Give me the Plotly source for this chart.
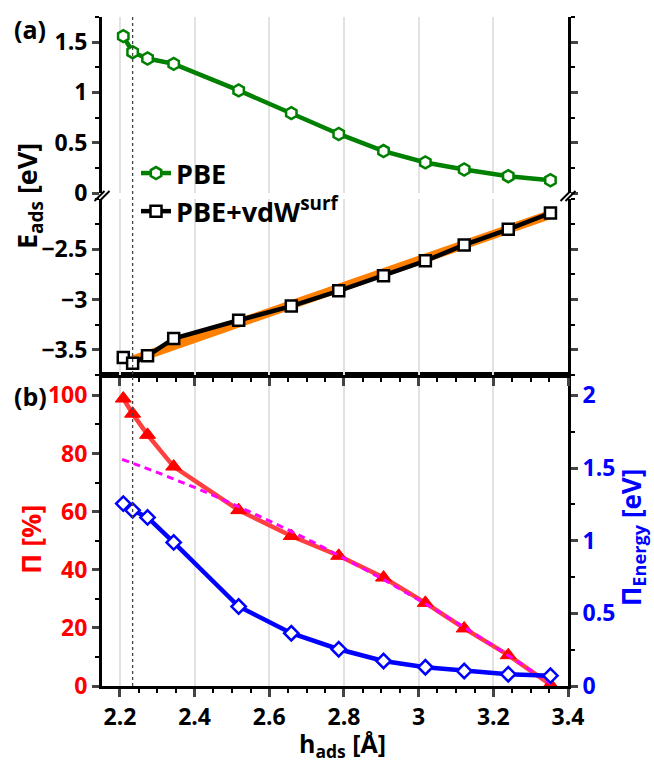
import plotly.graph_objects as go

# ---------------- data ----------------
h_ads = [2.209, 2.234, 2.274, 2.344, 2.518, 2.659, 2.786, 2.906, 3.018, 3.122, 3.240, 3.353]
E_pbe = [1.56, 1.40, 1.337, 1.284, 1.02, 0.794, 0.587, 0.417, 0.304, 0.234, 0.167, 0.127]
E_vdw = [-3.575, -3.634, -3.559, -3.388, -3.206, -3.065, -2.913, -2.763, -2.615, -2.457, -2.302, -2.139]
vdw_fit_x = [2.234, 3.353]
vdw_fit_y = [-3.60, -2.155]
Pi_percent = [98.9, 93.7, 86.4, 75.5, 60.5, 51.6, 44.8, 37.3, 28.6, 19.8, 10.6, 0.5]
Pi_energy = [1.255, 1.209, 1.16, 0.988, 0.547, 0.363, 0.253, 0.172, 0.129, 0.103, 0.081, 0.071]
fit_pi_x = [2.206, 2.25, 2.30, 2.35, 2.40, 2.45, 2.50, 2.55, 2.60, 2.66, 2.72, 2.786,
            2.85, 2.906, 2.96, 3.018, 3.07, 3.122, 3.18, 3.24, 3.30, 3.353]
fit_pi_y = [78.0, 75.9, 73.5, 70.9, 68.3, 65.6, 62.7, 59.8, 56.8, 53.1, 49.3, 44.9,
            40.5, 36.6, 32.6, 28.3, 24.3, 20.2, 15.5, 10.5, 5.4, 0.8]
h_eq = 2.234

# ---------------- layout constants ----------------
W, H = 654, 763
L, R, T, B = 102, 568, 17, 686
PW, PH = R - L, B - T

def px(x):
    return (x - L) / PW

def py(y):
    return (B - y) / PH

FONT = "Open Sans"
GREEN = "#008000"
RED = "#ff0000"
BLUE = "#0000ff"
GRID = "#e2e2e2"
TICK = 23

fig = go.Figure()

# top panel: upper segment (PBE)
fig.add_trace(go.Scatter(
    x=h_ads, y=E_pbe, xaxis="x3", yaxis="y4", mode="lines+markers", name="PBE",
    line=dict(color=GREEN, width=4.5),
    marker=dict(symbol="hexagon", size=12, color="white", line=dict(color=GREEN, width=2.5)),
))
# top panel: lower segment (vdW)
fig.add_trace(go.Scatter(
    x=vdw_fit_x, y=vdw_fit_y, xaxis="x2", yaxis="y3", mode="lines", showlegend=False,
    line=dict(color="#ff8000", width=9), hoverinfo="skip",
))
fig.add_trace(go.Scatter(
    x=h_ads, y=E_vdw, xaxis="x2", yaxis="y3", mode="lines+markers", name="PBE+vdW<sup>surf</sup>",
    line=dict(color="black", width=4.5),
    marker=dict(symbol="square", size=11, color="white", line=dict(color="black", width=2.5)),
))
# bottom panel
fig.add_trace(go.Scatter(
    x=h_ads, y=Pi_percent, xaxis="x", yaxis="y", mode="lines+markers", showlegend=False,
    line=dict(color="#ff4040", width=4.5),
    marker=dict(symbol="triangle-up", size=14, color=RED, line=dict(color=RED, width=1)),
))
fig.add_trace(go.Scatter(
    x=fit_pi_x, y=fit_pi_y, xaxis="x", yaxis="y", mode="lines", showlegend=False,
    line=dict(color="#ff00ff", width=3, dash="7px,5px", shape="spline"),
))
fig.add_trace(go.Scatter(
    x=h_ads, y=Pi_energy, xaxis="x", yaxis="y2", mode="lines+markers", showlegend=False,
    line=dict(color=BLUE, width=4.5),
    marker=dict(symbol="diamond", size=11, color="white", line=dict(color=BLUE, width=2.5)),
))

tickfont_k = dict(family=FONT, size=TICK, color="black", weight=700)
tickfont_r = dict(family=FONT, size=TICK, color=RED, weight=700)
tickfont_b = dict(family=FONT, size=TICK, color=BLUE, weight=700)

d_bot = [0, py(375)]
d_low = [py(375), py(199)]
d_up = [py(193), 1]

common_x = dict(range=[2.152, 3.4], tick0=2.2, dtick=0.2, showgrid=True, gridcolor=GRID, gridwidth=1.5,
                zeroline=False, linecolor="black", linewidth=3)
minor_x = dict(tick0=2.15, dtick=0.05, ticks="outside", ticklen=4, tickwidth=2, tickcolor="black", showgrid=False)

fig.update_layout(
    width=W, height=H,
    margin=dict(l=L, r=W - R, t=T, b=H - B),
    plot_bgcolor="white", paper_bgcolor="white",
    font=dict(family=FONT, color="black", weight=700),
    xaxis=dict(common_x, domain=[0, 1], anchor="y", showline=True, mirror=True,
               ticks="outside", ticklen=8, tickwidth=2.5, tickfont=tickfont_k, minor=minor_x),
    xaxis2=dict(common_x, domain=[0, 1], anchor="y3", matches="x", showline=True, mirror=False,
                showticklabels=False, ticks="outside", ticklen=8, tickwidth=2.5, minor=minor_x),
    xaxis3=dict(common_x, domain=[0, 1], anchor="y4", matches="x", showline=False,
                showticklabels=False, ticks=""),
    yaxis=dict(domain=d_bot, anchor="x", range=[0, 107], dtick=20, showgrid=False, zeroline=False,
               showline=True, linecolor="black", linewidth=3, ticks="outside", ticklen=7, tickwidth=2.5,
               tickfont=tickfont_r,
               minor=dict(dtick=10, ticks="outside", ticklen=4, tickwidth=2, tickcolor="black")),
    yaxis2=dict(domain=d_bot, anchor="x", overlaying="y", side="right", range=[0, 2.14], dtick=0.5,
                showgrid=False, zeroline=False, showline=True, linecolor="black", linewidth=3,
                ticks="outside", ticklen=7, tickwidth=2.5, tickfont=tickfont_b,
                minor=dict(dtick=0.25, ticks="outside", ticklen=4, tickwidth=2, tickcolor="black")),
    yaxis3=dict(domain=d_low, anchor="x2", range=[-3.75, -2.0], tickvals=[-3.5, -3, -2.5],
                ticktext=["\u22123.5", "\u22123", "\u22122.5"],
                showgrid=False, zeroline=False, showline=True, mirror="ticks", linecolor="black",
                linewidth=3, ticks="outside", ticklen=7, tickwidth=2.5, tickfont=tickfont_k,
                minor=dict(tick0=-3.75, dtick=0.25, ticks="outside", ticklen=4, tickwidth=2, tickcolor="black")),
    yaxis4=dict(domain=d_up, anchor="x3", range=[0, 1.75], tickvals=[0, 0.5, 1, 1.5],
                ticktext=["0", "0.5", "1", "1.5"],
                showgrid=False, zeroline=False, showline=True, mirror="ticks", linecolor="black",
                linewidth=3, ticks="outside", ticklen=7, tickwidth=2.5, tickfont=tickfont_k,
                minor=dict(dtick=0.25, ticks="outside", ticklen=4, tickwidth=2, tickcolor="black")),
    legend=dict(x=px(136), y=py(149), xanchor="left", yanchor="top", bgcolor="rgba(0,0,0,0)",
                font=dict(family=FONT, size=27, color="black", weight=700),
                tracegroupgap=0, itemwidth=30),
    showlegend=True,
)

# vertical dashed line at equilibrium height
fig.add_shape(type="line", xref="x", yref="paper", x0=h_eq, x1=h_eq, y0=0, y1=1,
              line=dict(color="#444444", width=1.3, dash="dot"), layer="above")

# axis break marks
for xb, yb in [(0, py(196)), (1, py(196))]:
    for off in (-2.5, 2.5):
        fig.add_shape(type="line", xref="paper", yref="paper", xsizemode="pixel", ysizemode="pixel",
                      xanchor=xb, yanchor=yb, x0=-5 + off, x1=5 + off, y0=-5, y1=5,
                      line=dict(color="black", width=2))

ann = [
    dict(text="(a)", x=px(30), y=py(29), font=dict(size=25, color="black")),
    dict(text="(b)", x=px(30), y=py(396), font=dict(size=25, color="black")),
    dict(text="E<sub>ads</sub> [eV]", x=px(28), y=py(196), textangle=-90, font=dict(size=27, color="black")),
    dict(text="\u03a0 [%]", x=px(30), y=py(540), textangle=-90, font=dict(size=27, color=RED)),
    dict(text="\u03a0<sub>Energy</sub> [eV]", x=px(632), y=py(538), textangle=-90, font=dict(size=26, color=BLUE)),
    dict(text="h<sub>ads</sub> [\u00c5]", x=px(342), y=py(744), font=dict(size=25, color="black")),
]
for a in ann:
    a["font"].update(family=FONT, weight=700)
    fig.add_annotation(xref="paper", yref="paper", showarrow=False, xanchor="center", yanchor="middle", **a)

fig.write_html("out.html", config={"displayModeBar": False},
               post_script="document.body.style.margin='0';document.body.style.padding='0';")
